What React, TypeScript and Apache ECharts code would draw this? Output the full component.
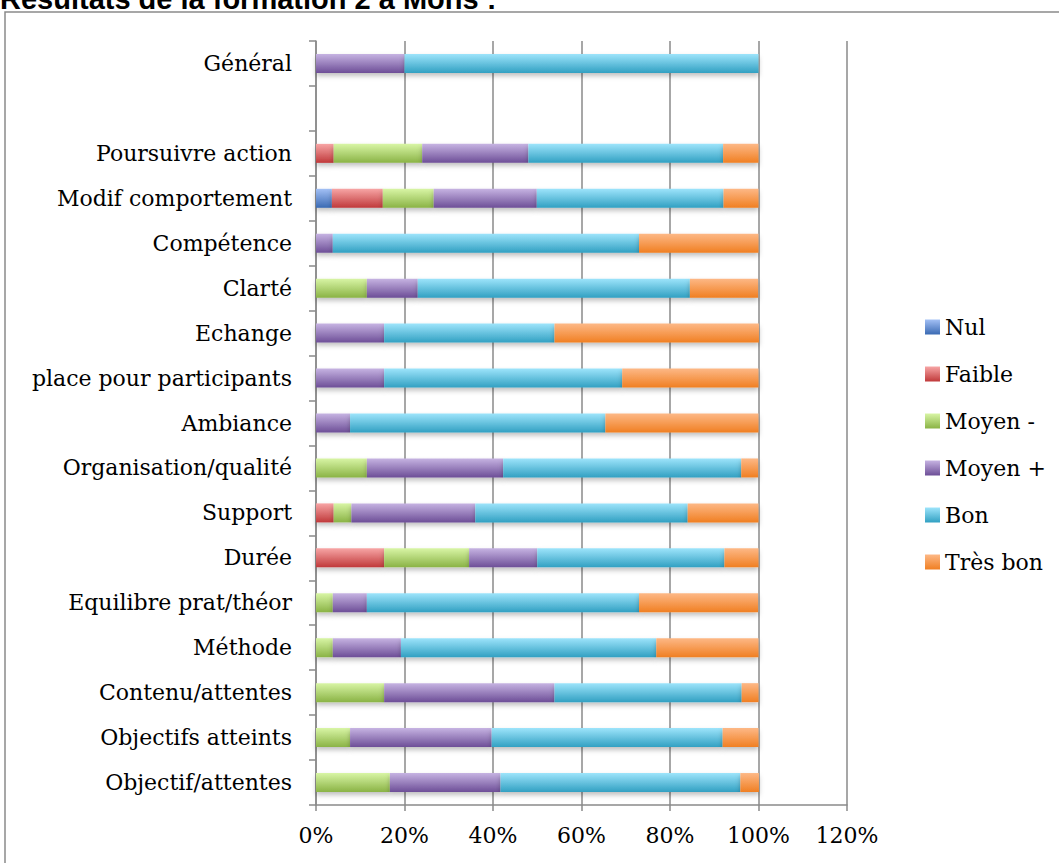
import React, { useEffect, useRef } from "react";
import * as echarts from "echarts";

const categories = [
  "Objectif/attentes",
  "Objectifs atteints",
  "Contenu/attentes",
  "Méthode",
  "Equilibre prat/théor",
  "Durée",
  "Support",
  "Organisation/qualité",
  "Ambiance",
  "place pour participants",
  "Echange",
  "Clarté",
  "Compétence",
  "Modif comportement",
  "Poursuivre action",
  "",
  "Général",
];

const seriesNames = ["Nul", "Faible", "Moyen -", "Moyen +", "Bon", "Très bon"];

const nul = [0, 0, 0, 0, 0, 0, 0, 0, 0, 0, 0, 0, 0, 3.6, 0, 0, 0];
const faible = [0, 0, 0, 0, 0, 15.4, 4, 0, 0, 0, 0, 0, 0, 11.5, 4, 0, 0];
const moyenMoins = [16.7, 7.7, 15.4, 3.8, 3.8, 19.2, 4, 11.5, 0, 0, 0, 11.5, 0, 11.5, 20, 0, 0];
const moyenPlus = [25, 32, 38.5, 15.4, 7.7, 15.4, 28, 30.8, 7.7, 15.4, 15.4, 11.5, 3.8, 23.3, 24, 0, 20];
const bon = [54.2, 52.2, 42.3, 57.7, 61.5, 42.3, 48, 53.8, 57.7, 53.8, 38.5, 61.5, 69.2, 42.2, 44, 0, 80];
const tresBon = [4.2, 8.1, 3.8, 23.1, 26.9, 7.7, 16, 3.8, 34.6, 30.8, 46.2, 15.4, 27, 7.9, 8, 0, 0];

const xTicks = [0, 20, 40, 60, 80, 100, 120];

const gradients: [string, string][] = [
  ["#a3c0f5", "#3a6ab3"],
  ["#f7a5a5", "#c0393a"],
  ["#d8f5a5", "#8ab345"],
  ["#c6b3e2", "#6d4e97"],
  ["#9de4fb", "#31a0c2"],
  ["#fdb886", "#f07f22"],
];

const SERIF = '"DejaVu Serif", serif';

export default function App() {
  const ref = useRef<HTMLDivElement>(null);
  useEffect(() => {
    if (!ref.current) return;
    const chart = echarts.init(ref.current, undefined, { renderer: "svg" });
    const allData = [nul, faible, moyenMoins, moyenPlus, bon, tresBon];
    const series = seriesNames.map((name, i) => ({
      name,
      type: "bar",
      stack: "total",
      barWidth: 19,
      data: allData[i].map((v) => (v === 0 ? null : v)),
      itemStyle: {
        color: new echarts.graphic.LinearGradient(0, 0, 0, 1, [
          { offset: 0, color: gradients[i][0] },
          { offset: 1, color: gradients[i][1] },
        ]),
        shadowBlur: 5,
        shadowOffsetY: 3,
        shadowColor: "rgba(0,0,0,0.25)",
      },
      emphasis: { disabled: true },
    }));
    chart.setOption({
      animation: false,
      backgroundColor: "#ffffff",
      graphic: [
        {
          type: "rect",
          shape: { x: 5, y: 12, width: 1200, height: 1000 },
          style: { fill: "none", stroke: "#8a8a8a", lineWidth: 1.5 },
          silent: true,
        },
        {
          type: "text",
          x: 0,
          y: 13,
          style: {
            text: "Résultats de la formation 2 à Mons :",
            font: 'bold 29px "Liberation Sans", sans-serif',
            fill: "#000",
            textVerticalAlign: "bottom",
          },
        },
      ],
      legend: {
        orient: "vertical",
        left: 920,
        top: 310,
        itemWidth: 15,
        itemHeight: 15,
        itemGap: 23,
        icon: "rect",
        data: seriesNames,
        textStyle: { fontFamily: SERIF, fontSize: 22, color: "#000", lineHeight: 24 },
      },
      grid: { left: 316, top: 41, width: 531, height: 764, containLabel: false },
      xAxis: {
        type: "value",
        min: xTicks[0],
        max: xTicks[xTicks.length - 1],
        interval: 20,
        axisLine: { show: true, lineStyle: { color: "#8a8a8a", width: 1.5 } },
        axisTick: { show: true, length: 6, lineStyle: { color: "#8a8a8a", width: 1.5 } },
        splitLine: { show: true, lineStyle: { color: "#8a8a8a", width: 1.5 } },
        axisLabel: {
          formatter: "{value}%",
          fontFamily: SERIF,
          fontSize: 22,
          color: "#000",
          margin: 19,
        },
      },
      yAxis: {
        type: "category",
        data: categories,
        axisLine: { show: true, lineStyle: { color: "#8a8a8a", width: 1.5 } },
        axisTick: { show: true, length: 7, lineStyle: { color: "#8a8a8a", width: 1.5 } },
        axisLabel: {
          interval: 0,
          fontFamily: SERIF,
          fontSize: 22,
          color: "#000",
          margin: 24,
        },
      },
      series,
    });
    return () => chart.dispose();
  }, []);
  return (
    <div
      ref={ref}
      style={{ position: "fixed", left: 0, top: 0, width: 1059, height: 863 }}
    />
  );
}
